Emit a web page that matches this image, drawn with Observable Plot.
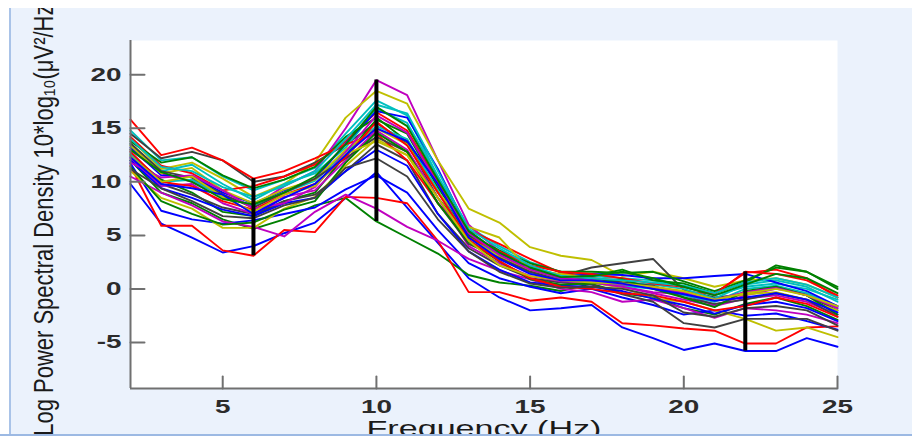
<!DOCTYPE html>
<html><head><meta charset="utf-8">
<script src="https://cdn.jsdelivr.net/npm/d3@7"></script>
<script src="https://cdn.jsdelivr.net/npm/@observablehq/plot@0.6"></script>
<style>
html,body{margin:0;padding:0;background:#fff;}
#wrap{position:relative;width:912px;height:440px;overflow:hidden;background:#fff;}
#panel{position:absolute;left:9px;top:8px;width:903px;height:426px;background:#ebf2fc;border-left:2px solid #a9c3e8;}
#chart{position:absolute;left:0;top:0;}
#topstrip{position:absolute;left:0;top:0;width:912px;height:8px;background:#fff;}
#botstripL{position:absolute;left:0;top:434px;width:64px;height:6px;background:#fff;border-top:2px solid #9cb9e3;}
#botstripR{position:absolute;left:64px;top:434px;width:848px;height:6px;background:#fff;border-top:2px solid #9cb9e3;}
</style></head>
<body><div id="wrap"><div id="panel"></div><div id="botstripL"></div><div id="chart"></div><div id="topstrip"></div><div id="botstripR"></div></div>
<script>
const freqs = [2,3,4,5,6,7,8,9,10,11,12,13,14,15,16,17,18,19,20,21,22,23,24,25];

const ch01 = [9.8, 6.1, 4.8, 3.4, 4.0, 5.2, 6.2, 8.5, 10.9, 7.6, 4.3, 1.0, -0.8, -2.0, -1.8, -1.5, -3.6, -4.6, -5.7, -5.1, -5.8, -5.8, -4.6, -5.4];
const ch02 = [12.0, 9.0, 8.0, 6.5, 5.6, 6.5, 7.8, 8.5, 6.3, 4.8, 3.3, 1.3, 0.6, 0.3, -0.2, 0.5, -0.4, -0.8, -1.8, -2.4, -1.4, -0.8, -1.6, -2.9];
const ch03 = [11.5, 5.9, 5.9, 3.6, 3.1, 5.5, 5.3, 8.6, 8.5, 8.0, 4.5, -0.3, -0.3, -1.1, -0.8, -1.2, -3.2, -3.4, -3.7, -3.9, -5.1, -5.1, -3.6, -3.5];
const ch04 = [14.8, 12.0, 12.3, 10.5, 9.2, 10.2, 11.3, 14.5, 17.6, 16.2, 10.5, 5.8, 4.0, 2.5, 1.6, 1.2, 1.0, 0.8, 0.2, -0.6, 0.2, 0.5, 0.0, -1.0];
const ch05 = [13.0, 10.8, 10.0, 8.8, 7.7, 9.6, 11.0, 15.0, 19.5, 18.1, 12.0, 6.0, 3.5, 1.5, 0.8, 0.9, 0.2, -0.3, -0.5, -1.5, -0.6, 0.0, -0.4, -1.6];
const ch06 = [14.0, 11.2, 11.8, 10.3, 8.6, 9.8, 11.8, 16.0, 18.5, 17.3, 12.0, 7.5, 6.2, 3.9, 3.1, 2.7, 1.2, 1.6, 1.0, 0.2, 0.8, 1.0, 0.4, -0.8];
const ch07 = [14.5, 12.2, 12.8, 12.0, 10.0, 10.5, 11.8, 13.5, 15.5, 13.6, 8.5, 5.0, 3.0, 1.8, 1.2, 2.0, 2.4, 2.8, -0.1, -0.8, -0.5, 0.2, -0.6, -2.0];
const ch08 = [11.7, 7.3, 6.5, 6.1, 6.4, 7.0, 7.6, 9.3, 10.6, 9.0, 5.5, 2.4, 1.0, 0.2, -0.4, 0.0, -0.8, -1.5, -2.4, -2.0, -2.5, -2.3, -3.0, -3.8];
const ch09 = [12.5, 10.2, 9.0, 7.2, 6.8, 8.2, 9.0, 12.5, 15.8, 14.5, 9.5, 5.2, 3.2, 1.8, 1.0, 1.2, 1.8, 0.8, 0.5, -0.4, 0.6, 2.2, 1.6, 0.2];
const ch10 = [14.2, 11.5, 10.8, 9.2, 9.6, 10.5, 11.6, 13.8, 16.5, 14.8, 10.0, 5.5, 4.2, 2.8, 1.5, 1.0, 0.8, 0.2, -0.3, -0.4, 1.5, 1.8, 1.0, -0.8];
const ch11 = [13.5, 11.0, 11.6, 9.8, 8.3, 9.8, 10.8, 13.2, 16.8, 15.5, 10.5, 5.0, 3.2, 2.0, 1.3, 0.8, 0.6, 0.4, 0.0, -0.9, 0.4, 0.8, 0.2, -1.2];
const ch12 = [10.5, 9.0, 7.8, 6.3, 5.8, 4.9, 7.2, 8.8, 7.5, 5.8, 4.5, 2.8, 1.7, 0.9, 0.0, -0.3, -1.2, -1.0, -1.8, -2.7, -1.8, -2.0, -2.4, -3.2];
const ch13 = [11.0, 8.5, 7.5, 5.7, 5.7, 7.5, 8.6, 11.5, 14.0, 12.5, 8.0, 4.8, 3.0, 1.7, 0.7, 0.6, 0.1, -0.9, -1.2, -2.0, -2.8, -3.9, -3.6, -4.5];
const ch14 = [12.8, 9.8, 8.8, 7.6, 7.0, 8.2, 8.8, 11.0, 13.5, 12.0, 7.0, 3.8, 2.2, 1.0, 0.6, 0.4, -0.5, -1.2, -3.2, -3.6, -2.8, -2.8, -2.8, -3.9];
const ch15 = [13.2, 10.6, 10.5, 9.0, 8.0, 9.2, 10.2, 13.6, 16.6, 16.0, 11.2, 5.4, 3.3, 1.9, 1.1, 1.4, 1.3, 1.0, 1.0, 1.2, 1.4, 0.6, -0.2, -1.6];
const ch16 = [13.8, 11.8, 12.3, 10.6, 9.4, 10.2, 11.4, 14.2, 16.0, 13.8, 9.0, 5.0, 3.6, 2.4, 1.6, 1.6, 1.5, 1.6, 0.7, -0.2, 0.8, 2.0, 1.6, 0.0];
const ch17 = [15.8, 12.5, 13.2, 12.0, 10.3, 11.0, 12.2, 13.5, 14.5, 12.0, 8.0, 4.8, 3.5, 2.2, 1.6, 1.4, 1.0, 0.5, 0.2, -0.5, 1.6, 1.4, 0.8, -0.6];
const ch18 = [12.6, 10.0, 10.2, 8.6, 7.8, 9.0, 10.1, 12.8, 15.2, 14.0, 9.2, 4.5, 2.8, 1.5, 0.9, 0.6, 0.3, 0.0, -0.6, -1.2, 0.0, 0.3, -0.4, -1.8];
const ch19 = [12.2, 9.6, 9.8, 8.0, 7.0, 8.6, 9.2, 12.0, 14.8, 13.0, 8.5, 4.0, 2.4, 1.2, 0.7, 0.6, 0.2, -0.4, -1.0, -1.6, -0.9, -0.6, -1.2, -2.4];
const ch20 = [13.4, 10.8, 11.3, 9.2, 8.0, 9.3, 10.2, 13.0, 15.0, 13.5, 9.0, 5.8, 4.8, 1.7, 1.4, 1.0, 0.7, 0.1, -0.3, -1.0, -0.5, -0.3, -1.0, -2.0];
const ch21 = [13.6, 11.0, 10.4, 8.8, 7.6, 9.0, 10.3, 12.2, 14.2, 12.8, 8.0, 4.2, 2.9, 1.6, 0.8, 1.0, 0.6, 0.3, -0.8, -1.4, -1.0, -0.4, -1.0, -2.6];
const ch22 = [12.0, 9.4, 8.5, 7.4, 6.8, 8.0, 8.5, 11.0, 13.0, 11.5, 7.0, 3.5, 1.8, 0.6, 0.3, 0.2, -0.2, -0.9, -1.5, -2.3, -1.5, -1.2, -1.8, -3.0];
const ch23 = [11.4, 8.2, 7.0, 6.0, 6.2, 7.4, 8.2, 11.8, 14.6, 12.8, 8.0, 4.4, 2.6, 0.9, 0.4, 0.5, 0.9, 0.0, -0.8, -1.7, -0.2, 0.2, -0.6, -2.4];
const ch24 = [12.8, 10.0, 9.6, 8.2, 7.4, 8.8, 9.8, 12.3, 15.6, 13.4, 9.0, 4.6, 2.6, 1.0, 0.2, 0.0, -0.4, -0.6, -1.2, -2.0, -1.6, -0.8, -1.4, -2.6];
const ch25 = [14.0, 11.4, 11.0, 9.5, 8.6, 9.6, 11.0, 14.0, 17.2, 16.4, 11.0, 5.6, 3.8, 2.2, 1.2, 1.0, 0.8, 0.6, 0.3, -0.4, 0.6, 1.0, 0.4, -0.8];
const ch26 = [11.8, 10.4, 10.6, 9.2, 7.5, 8.0, 9.5, 12.8, 16.2, 14.6, 9.8, 5.2, 3.2, 1.8, 1.0, 0.8, 0.4, 0.2, -0.4, -1.0, -0.3, 0.1, -0.6, -1.8];
const ch27 = [12.4, 10.0, 10.5, 8.6, 7.2, 8.8, 9.6, 12.6, 13.8, 12.5, 8.5, 4.5, 2.2, 1.2, 0.8, 0.6, 0.5, 0.2, -0.2, -1.0, -0.4, 0.0, -0.6, -1.6];
const ch28 = [11.2, 9.4, 8.2, 6.8, 6.6, 7.8, 8.5, 11.3, 12.2, 10.5, 6.5, 3.5, 1.6, 0.5, 0.1, 0.2, 0.0, -0.6, -2.2, -2.6, -1.8, -1.6, -2.0, -3.4];
const ch29 = [12.3, 9.8, 9.4, 8.8, 7.0, 8.5, 9.8, 12.5, 15.0, 13.8, 9.8, 4.8, 2.8, 1.4, 0.8, 0.8, 0.5, 0.0, -0.5, -1.1, -0.8, -0.4, -1.0, -2.2];
const ch30 = [13.0, 10.9, 10.0, 8.4, 7.9, 9.0, 10.5, 13.5, 17.0, 15.2, 10.2, 5.4, 3.4, 2.0, 1.1, 1.2, 1.6, 1.0, 0.2, -0.6, 0.4, 1.4, 1.0, -0.4];

const channels = [ch01,ch02,ch03,ch04,ch05,ch06,ch07,ch08,ch09,ch10,ch11,ch12,ch13,ch14,ch15,
                  ch16,ch17,ch18,ch19,ch20,ch21,ch22,ch23,ch24,ch25,ch26,ch27,ch28,ch29,ch30];
const lineColors = ["#0000ff","#008000","#ff0000","#00bfbf","#bf00bf","#bfbf00","#404040"];
const markerFreqs = [6, 10, 22];
const xTicks = [5, 10, 15, 20, 25];
const yTicks = [-5, 0, 5, 10, 15, 20];
const xDomain = [2, 25];
const yDomain = [-9.3, 23.2];
const xLabel = "Frequency (Hz)";
const yLabel = "Log Power Spectral Density 10*log\u2081\u2080(\u03BCV\u00B2/Hz)";

const rows = channels.flatMap((vals, ci) =>
  vals.map((v, j) => ({ch: ci, f: freqs[j], v, lineColor: lineColors[ci % lineColors.length]})));
const ranges = markerFreqs.map(f => {
  const j = freqs.indexOf(f);
  const col = channels.map(c => c[j]);
  return {f, lo: d3.min(col), hi: d3.max(col)};
});

const tickShape = {draw(ctx, l) { ctx.moveTo(0, 0); ctx.lineTo(0, -l); }};
const font = "'Liberation Sans', Arial, sans-serif";
const axisColor = "#707070";

const plot = Plot.plot({
  width: 912, height: 440,
  marginLeft: 130, marginRight: 75, marginTop: 40, marginBottom: 52,
  style: {background: "transparent", fontFamily: font, overflow: "visible"},
  x: {domain: xDomain},
  y: {domain: yDomain},
  color: {type: "identity"},
  marks: [
    Plot.frame({fill: "white", stroke: null}),
    Plot.line(rows, {x: "f", y: "v", z: "ch", stroke: "lineColor", strokeWidth: 1.9, strokeLinejoin: "round"}),
    Plot.ruleX(ranges, {x: "f", y1: "lo", y2: "hi", stroke: "black", strokeWidth: 4}),
    Plot.ruleX([xDomain[0]], {stroke: axisColor, strokeWidth: 2}),
    Plot.ruleY([yDomain[0]], {stroke: axisColor, strokeWidth: 2}),
    Plot.vector(yTicks, {x: xDomain[0], y: d => d, rotate: 90, length: 14, anchor: "start", shape: tickShape, stroke: axisColor, strokeWidth: 2}),
    Plot.vector(xTicks, {x: d => d, y: yDomain[0], rotate: 0, length: 12, anchor: "start", shape: tickShape, stroke: axisColor, strokeWidth: 2}),
    Plot.axisY(yTicks, {tickSize: 0, tickPadding: 9, tickFormat: d => String(d), fontSize: 18, fontWeight: "bold", fill: "#2b2b2b", label: null}),
    Plot.axisX(xTicks, {tickSize: 0, tickPadding: 12, tickFormat: d => String(d), fontSize: 18, fontWeight: "bold", fill: "#2b2b2b", label: null}),
    Plot.text([xLabel], {text: d => d, frameAnchor: "bottom", textAnchor: "middle", lineAnchor: "top", dy: 32, fontSize: 22, fill: "#1a1a1a"}),
    Plot.text([yLabel], {text: d => d, frameAnchor: "left", textAnchor: "middle", lineAnchor: "middle", rotate: -90, dx: -86, dy: 2, fontSize: 22, fill: "#1a1a1a"})
  ]
});
document.getElementById("chart").appendChild(plot);

// emulate the horizontally stretched glyphs of the original figure
const svg = d3.select(plot);
svg.selectAll('g[aria-label="y-axis tick label"] text, g[aria-label="x-axis tick label"] text').each(function() {
  const t = d3.select(this);
  t.attr("transform", (t.attr("transform") || "") + " scale(1.55,1)");
});
svg.selectAll("text").filter(function() { return this.textContent === xLabel; }).each(function() {
  const t = d3.select(this);
  t.attr("transform", (t.attr("transform") || "") + " scale(1.55,1)");
});
svg.selectAll("text").filter(function() { return this.textContent === yLabel; }).each(function() {
  const t = d3.select(this);
  const tr = t.attr("transform") || "";
  t.attr("transform", tr.includes("rotate(") ? tr.replace("rotate(", "scale(1.27,1) rotate(") : tr + " scale(1.27,1) rotate(-90)");
});
</script></body></html>
